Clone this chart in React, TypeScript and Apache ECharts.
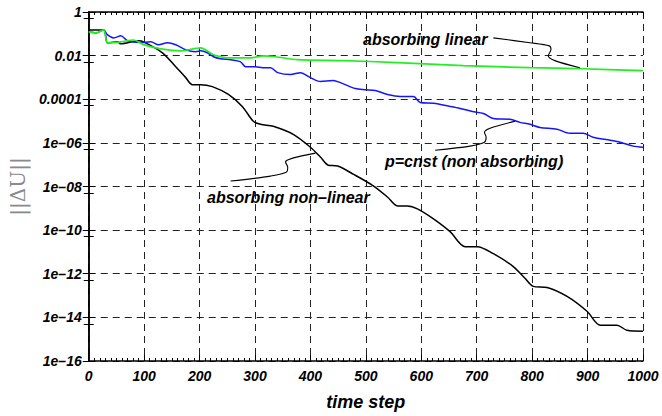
import React, { useEffect, useRef } from "react";
import * as echarts from "echarts";

const nonLinX = [0, 27, 34, 52, 58, 90, 99, 133, 157, 175, 187, 202, 223, 252, 277, 297, 310, 333, 369, 400, 418, 432, 449, 477, 514, 539, 557, 575, 593, 622, 652, 679, 701, 730, 766, 787, 802, 827, 863, 899, 923, 953, 971, 1000];
const nonLinY = [0.151, 0.151, 0.0389, 0.0427, 0.0347, 0.0479, 0.0427, 0.0135, 3.09e-3, 9.8e-4, 4.68e-4, 4.68e-4, 3.8e-4, 1.66e-4, 4.68e-5, 9.8e-6, 7.08e-6, 5.75e-6, 2.45e-6, 6.3e-7, 2.24e-7, 9.5e-8, 8.7e-8, 3.7e-8, 1.05e-8, 3.3e-9, 1.29e-9, 1.29e-9, 9.5e-10, 3.3e-10, 8.5e-11, 1.74e-11, 1.74e-11, 8.3e-12, 2.14e-12, 6.2e-13, 2.63e-13, 2.34e-13, 9.1e-14, 1.9e-14, 4.4e-15, 4.4e-15, 2.57e-15, 2.34e-15];

const cnstX = [0, 13, 27, 34, 45, 58, 70, 92, 112, 126, 142, 157, 175, 193, 202, 214, 225, 238, 256, 274, 283, 301, 314, 328, 341, 364, 382, 400, 418, 441, 454, 481, 499, 517, 539, 562, 586, 598, 622, 652, 670, 692, 712, 730, 760, 778, 796, 814, 845, 868, 892, 910, 941, 959, 982, 1000];
const cnstY = [0.123, 0.110, 0.151, 0.089, 0.065, 0.081, 0.048, 0.040, 0.0427, 0.0316, 0.0389, 0.0316, 0.0186, 0.0151, 0.0166, 0.0135, 8.9e-3, 7.2e-3, 6.5e-3, 5.2e-3, 3.1e-3, 3.1e-3, 2.8e-3, 2.8e-3, 1.66e-3, 1.35e-3, 1.66e-3, 9.8e-4, 6.5e-4, 7.2e-4, 5.8e-4, 3.1e-4, 2.75e-4, 2.5e-4, 1.66e-4, 1.35e-4, 1.35e-4, 7.1e-5, 6.5e-5, 4.7e-5, 3.8e-5, 2.75e-5, 2.24e-5, 1.32e-5, 1.2e-5, 8.7e-6, 7.1e-6, 5.1e-6, 4.2e-6, 2.75e-6, 2.75e-6, 1.82e-6, 1.32e-6, 1.07e-6, 7.1e-7, 6.3e-7];

const linX = [0, 13, 27, 34, 58, 81, 99, 130, 166, 202, 225, 256, 292, 315, 337, 377, 459, 557, 676, 796, 892, 1000];
const linY = [0.123, 0.110, 0.151, 0.039, 0.043, 0.052, 0.032, 0.0204, 0.0166, 0.0229, 0.011, 7.9e-3, 7.9e-3, 9.8e-3, 8.9e-3, 6.5e-3, 5.9e-3, 4.8e-3, 3.5e-3, 2.8e-3, 2.5e-3, 2.04e-3];

// annotation leader lines (data coordinates)
const leadLinX = [730, 796, 831, 834, 829, 841, 886];
const leadLinY = [0.065, 0.039, 0.028, 0.019, 0.0098, 0.0059, 0.0028];
const leadCnstX = [625, 688, 714, 717, 714, 724, 769];
const leadCnstY = [4.6e-7, 7.1e-7, 1.07e-6, 1.82e-6, 3.0e-6, 4.7e-6, 9.8e-6];
const leadNonX = [256, 328, 357, 359, 355, 368, 409];
const leadNonY = [1.78e-8, 3.0e-8, 4.6e-8, 7.8e-8, 1.32e-7, 2.0e-7, 3.4e-7];

const labels = ["absorbing linear", "p=cnst (non absorbing)", "absorbing non–linear"];

const zip = (xs: number[], ys: number[]) => xs.map((x, i) => [x, ys[i]]);

const FONT = "Liberation Sans";

function yLabel(v: number): string {
  const e = Math.round(Math.log10(v));
  if (e === 0) return "1";
  if (e === -2) return "0.01";
  if (e === -4) return "0.0001";
  const a = Math.abs(e);
  return "1e–" + (a < 10 ? "0" + a : String(a));
}

export default function App() {
  const ref = useRef<HTMLDivElement>(null);
  useEffect(() => {
    if (!ref.current) return;
    const chart = echarts.init(ref.current, null, { renderer: "svg" });
    const labelStyle = {
      fontFamily: FONT,
      fontWeight: "bold" as const,
      fontStyle: "italic" as const,
      fontSize: 14,
      color: "#000",
    };
    const frame = { show: true, lineStyle: { color: "#000", width: 1.5 } };
    const grid = { show: true, lineStyle: { color: "#222", width: 1, type: [7, 5] as any } };
    const lineSeries = (data: number[][], color: string, width: number, z: number) => ({
      type: "line",
      data,
      showSymbol: false,
      symbol: "none",
      smooth: 0.3,
      lineStyle: { color, width },
      z,
      silent: true,
    });
    const annFont = `italic bold 16px "${FONT}"`;
    chart.setOption({
      animation: false,
      backgroundColor: "#fff",
      grid: { left: 88, right: 19, top: 12, bottom: 53 },
      xAxis: [
        {
          type: "value",
          min: 0,
          max: 1000,
          interval: 100,
          position: "bottom",
          name: "time step",
          nameLocation: "middle",
          nameGap: 32,
          nameTextStyle: { ...labelStyle, fontSize: 18 },
          axisLine: frame,
          axisTick: { show: true, inside: true, length: 6, lineStyle: { color: "#000" } },
          minorTick: { show: true, splitNumber: 10, length: 3, lineStyle: { color: "#000" } },
          axisLabel: { ...labelStyle, margin: 8, formatter: (v: number) => String(v) },
          splitLine: grid,
        },
        {
          type: "value",
          min: 0,
          max: 1000,
          interval: 100,
          position: "top",
          axisLine: frame,
          axisTick: { show: true, inside: true, length: 6, lineStyle: { color: "#000" } },
          minorTick: { show: true, splitNumber: 10, length: 3, lineStyle: { color: "#000" } },
          axisLabel: { show: false },
          splitLine: { show: false },
        },
      ],
      yAxis: [
        {
          type: "log",
          logBase: 10,
          min: 1e-16,
          max: 1,
          interval: 2,
          position: "left",
          name: "||ΔU||",
          nameLocation: "middle",
          nameRotate: 90,
          nameGap: 58,
          nameTextStyle: { fontFamily: "DejaVu Serif", fontSize: 20, color: "#8a8a8a" },
          axisLine: frame,
          axisTick: { show: true, inside: true, length: 6, lineStyle: { color: "#000" } },
          minorTick: { show: true, splitNumber: 2, length: 5, lineStyle: { color: "#000" } },
          axisLabel: { ...labelStyle, margin: 7, formatter: yLabel },
          splitLine: grid,
        },
        {
          type: "log",
          logBase: 10,
          min: 1e-16,
          max: 1,
          interval: 2,
          position: "right",
          axisLine: frame,
          axisTick: { show: true, inside: true, length: 6, lineStyle: { color: "#000" } },
          minorTick: { show: true, splitNumber: 2, length: 5, lineStyle: { color: "#000" } },
          axisLabel: { show: false },
          splitLine: { show: false },
        },
      ],
      series: [
        lineSeries(zip(nonLinX, nonLinY), "#000000", 1.5, 3),
        lineSeries(zip(cnstX, cnstY), "#1414ff", 1.5, 4),
        lineSeries(zip(linX, linY), "#22ee22", 1.7, 5),
        lineSeries(zip(leadLinX, leadLinY), "#000000", 1.1, 6),
        lineSeries(zip(leadCnstX, leadCnstY), "#000000", 1.1, 6),
        lineSeries(zip(leadNonX, leadNonY), "#000000", 1.1, 6),
      ],
      graphic: [
        { type: "text", left: 363, top: 31, z: 10, style: { text: labels[0], font: annFont, fill: "#000" } },
        { type: "text", left: 385, top: 153, z: 10, style: { text: labels[1], font: annFont, fill: "#000" } },
        { type: "text", left: 207, top: 189, z: 10, style: { text: labels[2], font: annFont, fill: "#000" } },
      ],
    });
    return () => chart.dispose();
  }, []);
  return (
    <div
      ref={ref}
      style={{ position: "fixed", left: 0, top: 0, width: 662, height: 416, background: "#fff" }}
    />
  );
}
